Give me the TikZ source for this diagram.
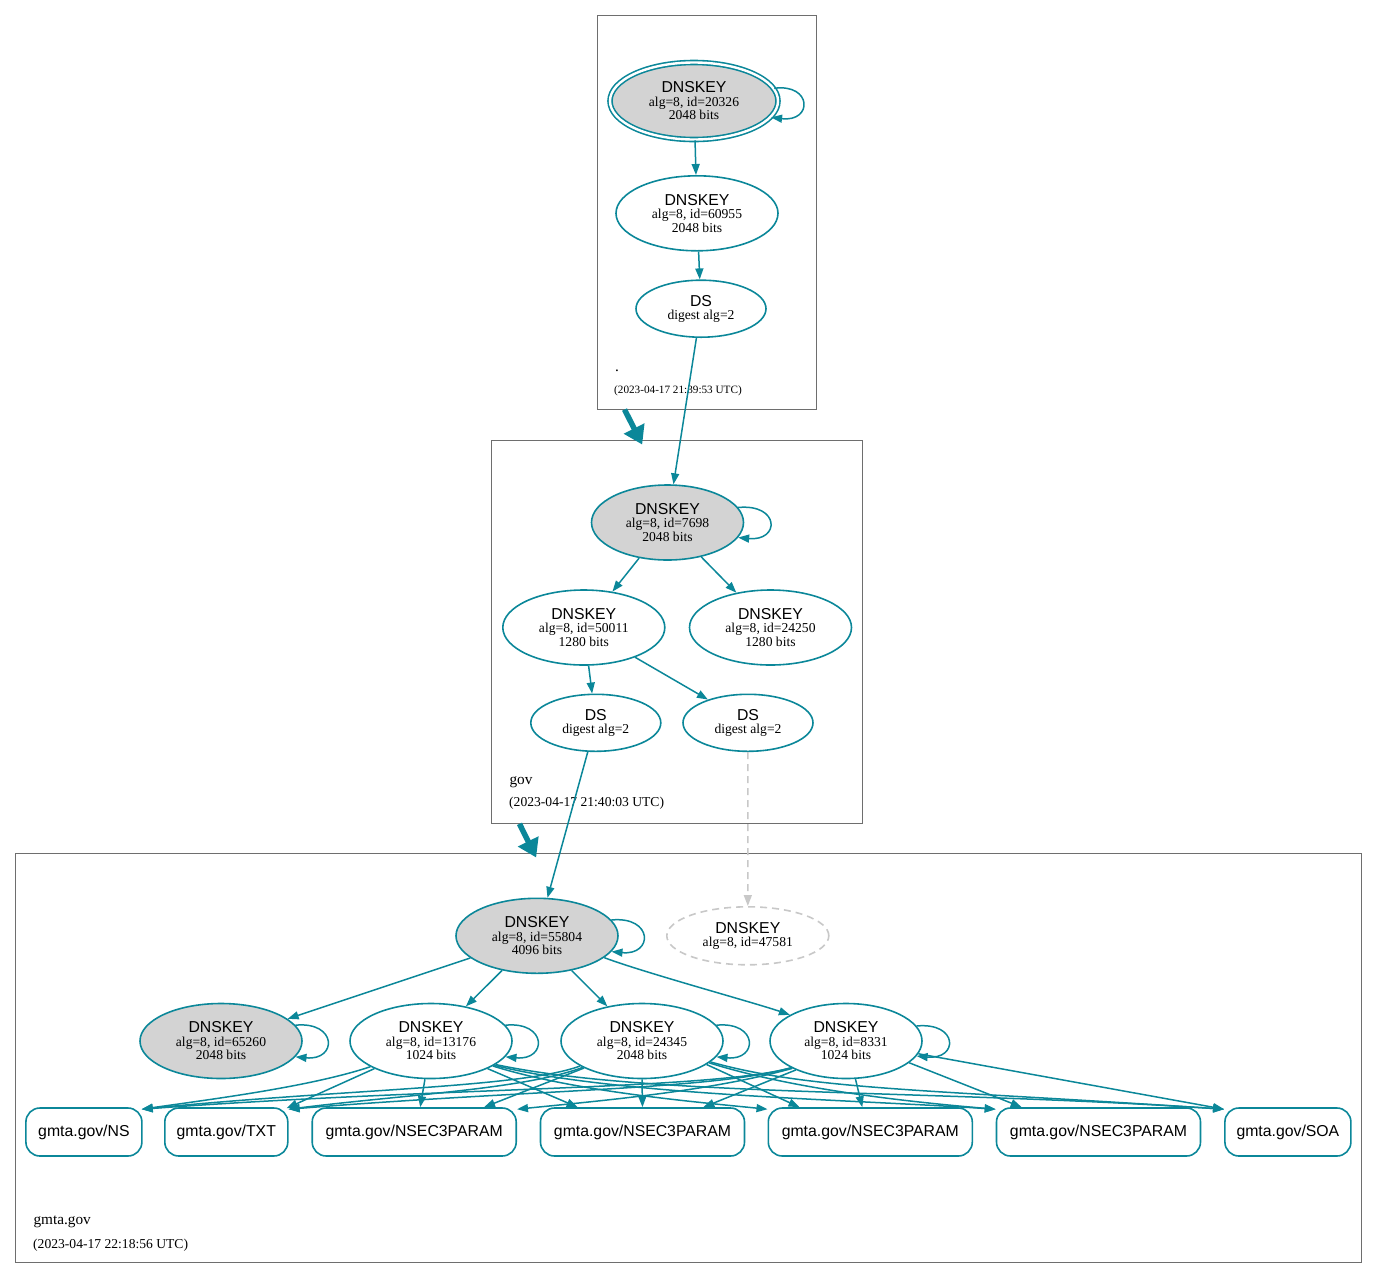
\documentclass[tikz,border=0pt]{standalone}
\usepackage{fontspec}
\setmainfont{Liberation Serif}
\setsansfont{Liberation Sans}
\usetikzlibrary{shapes.geometric,arrows.meta}
\definecolor{dnsteal}{RGB}{11,135,153}
\definecolor{keygray}{RGB}{211,211,211}
\definecolor{clgray}{RGB}{110,110,110}
\definecolor{dashgray}{RGB}{200,200,200}
\newcommand{\keyhead}[1]{{\sffamily\fontsize{15.8}{13.5}\selectfont #1}}
\begin{document}
\begin{tikzpicture}[x=1pt,y=-1pt,
  keynode/.style={ellipse, draw=dnsteal, line width=1.6pt, inner sep=0pt, align=center,
    font=\fontsize{13.6}{13.5}\selectfont, minimum width=162pt, minimum height=75pt},
  ksk/.style={keynode, fill=keygray},
  dsnode/.style={keynode, minimum width=130pt, minimum height=57pt},
  rrset/.style={rectangle, rounded corners=14pt, draw=dnsteal, line width=1.6pt,
    minimum height=48pt, inner sep=0pt, font=\sffamily\fontsize{15.8}{19}\selectfont},
  cluster/.style={rectangle, draw=clgray, line width=1pt, inner sep=0pt},
  edge/.style={draw=dnsteal, line width=1.5pt, -{Triangle[length=11pt,width=8pt]}},
  deleg/.style={draw=dnsteal, line width=5.5pt, -{Triangle[length=18pt,width=22pt]}},
  cltitle/.style={anchor=base west, inner sep=0pt, font=\fontsize{15.3}{18}\selectfont},
  clstamp/.style={anchor=base west, inner sep=0pt, font=\fontsize{13.6}{16}\selectfont},
  smallstamp/.style={clstamp, font=\fontsize{11.2}{13}\selectfont}
]
\useasboundingbox (0,0) rectangle (1377,1278);

% clusters
\node[cluster, minimum width=218.7pt, minimum height=393.7pt] (croot) at (706.7,212.2) {};
\node[cluster, minimum width=371pt, minimum height=383.3pt] (cgov) at (677.2,631.7) {};
\node[cluster, minimum width=1345.7pt, minimum height=409pt] (cgmta) at (688.5,1057.5) {};

% root zone
\node[ksk, double, double distance=2.4pt, minimum width=168pt, minimum height=77pt] (k20) at (694,101)
  {\keyhead{DNSKEY}\\alg=8, id=20326\\2048 bits};
\node[keynode] (k60) at (697,213.3) {\keyhead{DNSKEY}\\alg=8, id=60955\\2048 bits};
\node[dsnode] (dsr) at (701,308.7) {\keyhead{DS}\\digest alg=2};
\node[cltitle] (lroot) at (615,371.7) {.};
\node[smallstamp] (troot) at (614,393.3) {(2023-04-17 21:39:53 UTC)};

% gov zone
\node[ksk, minimum width=152pt] (k76) at (667.5,522.5) {\keyhead{DNSKEY}\\alg=8, id=7698\\2048 bits};
\node[keynode] (k50) at (583.8,627.5) {\keyhead{DNSKEY}\\alg=8, id=50011\\1280 bits};
\node[keynode] (k242) at (770.5,627.5) {\keyhead{DNSKEY}\\alg=8, id=24250\\1280 bits};
\node[dsnode] (dsg1) at (595.8,722.8) {\keyhead{DS}\\digest alg=2};
\node[dsnode] (dsg2) at (748,722.8) {\keyhead{DS}\\digest alg=2};
\node[cltitle] (lgov) at (509.3,784) {gov};
\node[clstamp] (tgov) at (509,806.7) {(2023-04-17 21:40:03 UTC)};

% gmta.gov zone
\node[ksk] (k55) at (537,935.8) {\keyhead{DNSKEY}\\alg=8, id=55804\\4096 bits};
\node[keynode, draw=dashgray, dash pattern=on 7pt off 5pt, minimum height=58pt] (k47) at (747.8,935.8)
  {\keyhead{DNSKEY}\\alg=8, id=47581};
\node[ksk] (k65) at (221,1041) {\keyhead{DNSKEY}\\alg=8, id=65260\\2048 bits};
\node[keynode] (k13) at (431,1041) {\keyhead{DNSKEY}\\alg=8, id=13176\\1024 bits};
\node[keynode] (k24) at (642,1041) {\keyhead{DNSKEY}\\alg=8, id=24345\\2048 bits};
\node[keynode, minimum width=152pt] (k83) at (846,1041) {\keyhead{DNSKEY}\\alg=8, id=8331\\1024 bits};

\node[rrset, minimum width=116pt] (ns) at (83.9,1132) {gmta.gov/NS};
\node[rrset, minimum width=123pt] (txt) at (226.3,1132) {gmta.gov/TXT};
\node[rrset, minimum width=204pt] (p1) at (414.2,1132) {gmta.gov/NSEC3PARAM};
\node[rrset, minimum width=204pt] (p2) at (642.5,1132) {gmta.gov/NSEC3PARAM};
\node[rrset, minimum width=204pt] (p3) at (870.3,1132) {gmta.gov/NSEC3PARAM};
\node[rrset, minimum width=204pt] (p4) at (1098.5,1132) {gmta.gov/NSEC3PARAM};
\node[rrset, minimum width=126pt] (soa) at (1287.9,1132) {gmta.gov/SOA};
\node[cltitle] (lgmta) at (33.3,1224) {gmta.gov};
\node[clstamp] (tgmta) at (33,1248) {(2023-04-17 22:18:56 UTC)};

% delegation arrows between zones
\draw[deleg] ([xshift=27.7pt]croot.south west) -- ([xshift=151pt,yshift=-5pt]cgov.north west);
\draw[deleg] ([xshift=28.3pt]cgov.south west) -- ([xshift=521pt,yshift=-5pt]cgmta.north west);

% self loops
\draw[edge] (k20.9) .. controls +(38,-5) and +(42,5) .. (k20.-12);
\foreach \n in {k76,k55,k65,k13,k24,k83}
  \draw[edge] (\n.12) .. controls +(42,-4) and +(42,4) .. (\n.-12);

% chain edges
\draw[edge] (k20) -- (k60);
\draw[edge] (k60) -- (dsr);
\draw[edge] (dsr) -- (k76);
\draw[edge] (k76) -- (k50);
\draw[edge] (k76) -- (k242);
\draw[edge] (k50) -- (dsg1);
\draw[edge] (k50) -- (dsg2);
\draw[edge] (dsg1) -- (k55);
\draw[edge, draw=dashgray, dash pattern=on 7pt off 5pt] (dsg2) -- (k47);
\draw[edge] (k55) -- (k65);
\draw[edge] (k55) -- (k13);
\draw[edge] (k55) -- (k24);
\draw[edge] (k55.-18) .. controls +(40,15) and +(-35,-12) .. (k83.155);

% from k13
\draw[edge] (k13.-157) .. controls +(-60,20) and +(70,-10) .. ([xshift=-1pt,yshift=-2pt]ns.north east);
\draw[edge] (k13.-154) -- ([xshift=-2pt,yshift=-1pt]txt.north east);
\draw[edge] (k13.-99) -- ([xshift=6pt]p1.north);
\draw[edge] (k13.-26) -- ([xshift=38pt]p2.north west);
\draw[edge] (k13.-22) .. controls +(80,25) and +(-80,-8) .. ([yshift=-2pt]p3.north west);
\draw[edge] (k13.-21) .. controls +(120,30) and +(-150,-10) .. ([yshift=-2pt]p4.north west);
\draw[edge] (k13.-20) .. controls +(150,32) and +(-300,-20) .. ([yshift=-2pt]soa.north west);

% from k24
\draw[edge] (k24.-158) .. controls +(-60,22) and +(200,-20) .. ([xshift=-1pt,yshift=-2pt]ns.north east);
\draw[edge] (k24.-156) .. controls +(-60,22) and +(120,-15) .. ([yshift=-2pt]txt.north east);
\draw[edge] (k24.-155) -- ([xshift=-33pt]p1.north east);
\draw[edge] (k24.-90) -- (p2.north);
\draw[edge] (k24.-20) -- ([xshift=32pt]p3.north west);
\draw[edge] (k24.-18) .. controls +(70,22) and +(-120,-10) .. ([yshift=-2pt]p4.north west);
\draw[edge] (k24.-17) .. controls +(100,28) and +(-300,-20) .. ([yshift=-2pt]soa.north west);

% from k83
\draw[edge] (k83.-154) .. controls +(-80,22) and +(300,-22) .. ([xshift=-1pt,yshift=-2pt]ns.north east);
\draw[edge] (k83.-154) .. controls +(-80,22) and +(250,-20) .. ([yshift=-2pt]txt.north east);
\draw[edge] (k83.-153) .. controls +(-80,22) and +(100,-10) .. ([yshift=-2pt]p1.north east);
\draw[edge] (k83.-150) -- ([xshift=-42pt]p2.north east);
\draw[edge] (k83.-76) -- ([xshift=-8pt]p3.north);
\draw[edge] (k83.-19) -- ([xshift=26pt]p4.north west);
\draw[edge] (k83.-10) -- ([yshift=-2pt]soa.north west);
\end{tikzpicture}
\end{document}
